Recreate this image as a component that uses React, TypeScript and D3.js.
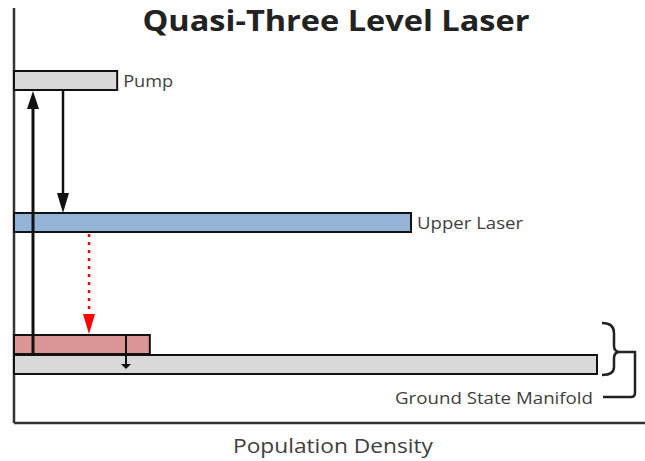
import React from 'react';
import * as d3 from 'd3';

// energy levels (bar top position in arbitrary energy units) and population (bar length)
const levels = ['Ground State Manifold', 'Lower Laser', 'Upper Laser', 'Pump'];
const energies = [0, 1, 7.1, 14.2];
const populations = [100, 23.3, 68.1, 17.7];
const fills = ['#d9d9d9', '#d99694', '#95b3d7', '#d9d9d9'];
const labels = ['', '', 'Upper Laser', 'Pump'];
const labelWidths = [0, 0, 106, 50];

const width = 645;
const height = 461;

const x = d3.scaleLinear().domain([0, 100]).range([14, 597]);
const y = d3.scaleLinear().domain([0, 14.2]).range([355, 71]);
const barH = 19;

const App = () => {
  const x0 = x(0);
  const axisY = 423;
  const txt = '#404040';
  const font = '"Open Sans", sans-serif';

  // arrow helper: vertical arrow from y1 to y2 at xp
  const arrow = (xp: number, y1: number, y2: number, color: string, w: number, hw: number, hl: number, dash?: string) => {
    const dir = y2 > y1 ? 1 : -1;
    const base = y2 - dir * hl;
    return (
      <g>
        <line x1={xp} x2={xp} y1={y1} y2={base} stroke={color} strokeWidth={w} strokeDasharray={dash} />
        <polygon points={`${xp - hw},${base} ${xp + hw},${base} ${xp},${y2}`} fill={color} />
      </g>
    );
  };

  const ground = y(energies[0]);
  const lower = y(energies[1]);
  const upper = y(energies[2]);
  const pump = y(energies[3]);

  const gEnd = x(populations[0]);
  const bx = gEnd + 5;
  const braceTop = lower - 12;
  const braceMid = ground - 3;
  const braceBot = ground + barH + 1;
  const brace = `M${bx},${braceTop} Q${bx + 12},${braceTop} ${bx + 12},${braceTop + 10} L${bx + 12},${braceMid - 6} Q${bx + 12},${braceMid} ${bx + 18},${braceMid} L${bx + 33},${braceMid} L${bx + 33},${braceBot + 18} Q${bx + 33},${braceBot + 22} ${bx + 29},${braceBot + 22} L${bx + 1},${braceBot + 22} M${bx + 18},${braceMid} Q${bx + 12},${braceMid} ${bx + 12},${braceMid + 6} L${bx + 12},${braceBot - 8} Q${bx + 12},${braceBot} ${bx},${braceBot}`;

  return (
    <svg width={width} height={height} style={{ position: 'absolute', left: 0, top: 0, background: '#fff' }}>
      <text x={336} y={31} textAnchor="middle" fontFamily={font} fontWeight="bold" fontSize={29}
        textLength={387} lengthAdjust="spacingAndGlyphs" fill="#222">Quasi-Three Level Laser</text>

      {/* axes */}
      <line x1={x0} x2={x0} y1={8} y2={axisY} stroke="#333" strokeWidth={2.5} />
      <line x1={x0} x2={width} y1={axisY} y2={axisY} stroke="#333" strokeWidth={2.5} />
      <text x={333} y={453} textAnchor="middle" fontFamily={font} fontSize={20} fill={txt}
        textLength={200} lengthAdjust="spacingAndGlyphs">Population Density</text>

      {/* level bars, ground first so lower laser sits on top */}
      {levels.map((l, i) => (
        <rect key={l} x={x0} y={y(energies[i])} width={x(populations[i]) - x0} height={barH}
          fill={fills[i]} stroke="#111" strokeWidth={2} />
      ))}
      {labels.map((lab, i) => lab ? (
        <text key={lab} x={x(populations[i]) + 6} y={y(energies[i]) + 16} fontFamily={font} fontSize={16} fill={txt}
          textLength={labelWidths[i]} lengthAdjust="spacingAndGlyphs">{lab}</text>
      ) : null)}

      {/* transitions */}
      {arrow(33, ground, pump + barH + 1, '#111', 3, 6, 18)}
      {arrow(63, pump + barH, upper, '#111', 2.5, 6, 20)}
      {arrow(89, upper + barH + 2, lower - 1, '#ff0000', 2.5, 6, 20, '3,5')}
      {arrow(126, lower, ground + barH - 5, '#111', 2, 5, 5)}

      {/* brace */}
      <path d={brace} fill="none" stroke="#222" strokeWidth={2.5} />
      <text x={593} y={404} textAnchor="end" fontFamily={font} fontSize={16} fill={txt}
        textLength={198} lengthAdjust="spacingAndGlyphs">Ground State  Manifold</text>
    </svg>
  );
};

export default App;
